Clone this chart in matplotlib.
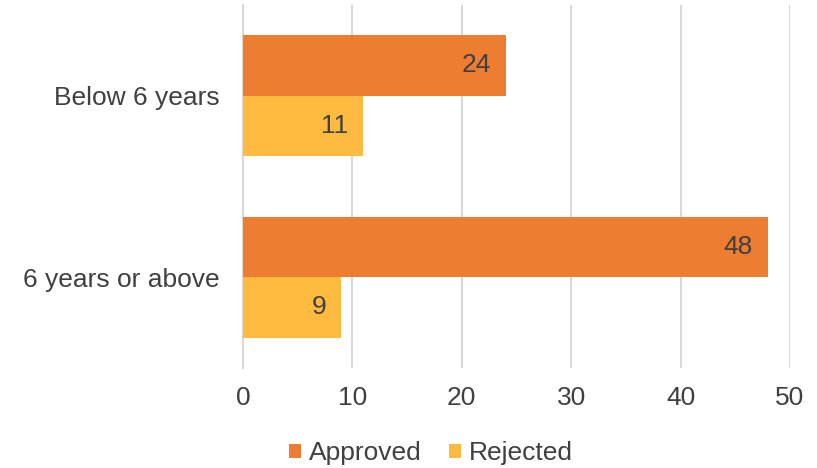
import matplotlib
matplotlib.use("Agg")
import matplotlib.pyplot as plt
import numpy as np

categories = ["Below 6 years", "6 years or above"]
approved = [24, 48]
rejected = [11, 9]
series_names = ["Approved", "Rejected"]
x_ticks = [0, 10, 20, 30, 40, 50]

orange = "#ED7D31"
yellow = "#FFBB40"
text_col = "#404040"
grid_col = "#D9D9D9"
fs = 19

plt.rcParams["font.family"] = ["Liberation Sans", "DejaVu Sans"]

fig = plt.figure(figsize=(8.17, 4.68), dpi=100)
ax = fig.add_axes([243 / 817, 1 - 368 / 468, (790 - 243) / 817, (368 - 5) / 468])

y = np.arange(len(categories))
h = 1 / 3
b1 = ax.barh(y - h / 2, approved, height=h, color=orange, label=series_names[0], zorder=3)
b2 = ax.barh(y + h / 2, rejected, height=h, color=yellow, label=series_names[1], zorder=3)

# value labels sit inside the end of each bar
for bars in (b1, b2):
    for rect in bars:
        w = rect.get_width()
        ax.annotate(f"{w:g}", xy=(w, rect.get_y() + rect.get_height() / 2),
                    xytext=(-15, 0), textcoords="offset pixels",
                    ha="right", va="center", fontsize=fs, color=text_col, zorder=4)

ax.set_xlim(0, 50)
ax.set_ylim(1.5, -0.5)
ax.set_xticks(x_ticks)
ax.set_yticks(y)
ax.set_yticklabels(categories)
ax.xaxis.grid(True, color=grid_col, linewidth=1.5, zorder=0)
ax.yaxis.grid(False)
for s in ["top", "right", "bottom"]:
    ax.spines[s].set_visible(False)
ax.spines["left"].set_color(grid_col)
ax.spines["left"].set_linewidth(1.5)
ax.tick_params(axis="both", length=0, labelsize=fs, colors=text_col)
ax.tick_params(axis="x", pad=13)
ax.tick_params(axis="y", pad=16.5)

leg = fig.legend(handles=[b1, b2], labels=series_names, loc="center",
                 bbox_to_anchor=(431 / 817, 1 - 453 / 468), ncol=2, frameon=False,
                 fontsize=fs, handlelength=0.45, handleheight=0.45, handletextpad=0.3,
                 columnspacing=1.06)
for t in leg.get_texts():
    t.set_color(text_col)

fig.savefig("out.png", dpi=100, facecolor="white")
